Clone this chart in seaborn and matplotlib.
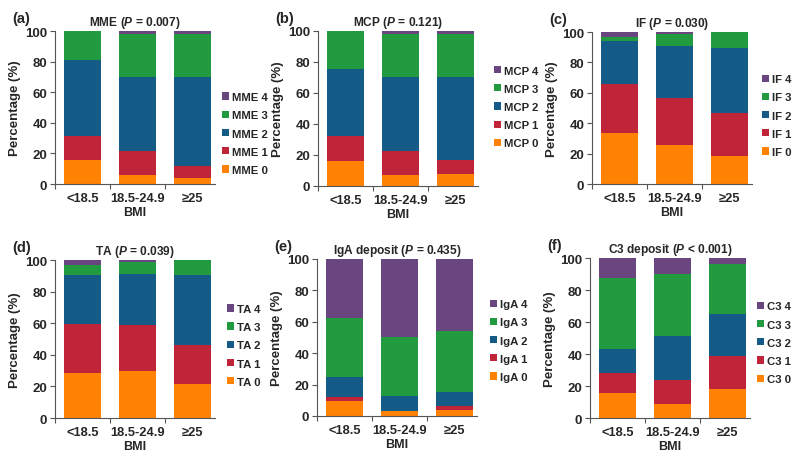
import pandas as pd
import matplotlib.pyplot as plt
import seaborn as sns

# BMI groups
bmi_groups = ['<18.5', '18.5-24.9', '≥25']
grades = ['0', '1', '2', '3', '4']

# percentage of each grade (0..4) per BMI group
mme = [[15.5, 15.7, 50.0, 18.8, 0.0],
       [6.1, 15.3, 48.3, 28.6, 1.7],
       [3.7, 7.9, 58.5, 28.2, 1.7]]
mcp = [[16.0, 16.0, 43.5, 24.5, 0.0],
       [6.8, 16.0, 47.8, 27.6, 1.8],
       [7.8, 9.0, 53.6, 27.8, 1.8]]
if_ = [[33.8, 31.7, 28.3, 3.1, 3.1],
       [25.9, 30.4, 34.2, 8.0, 1.5],
       [18.5, 28.5, 42.5, 10.5, 0.0]]
ta = [[28.4, 30.8, 31.3, 6.3, 3.2],
      [30.0, 28.8, 32.4, 7.3, 1.5],
      [21.6, 24.6, 44.3, 9.5, 0.0]]
iga = [[9.4, 2.9, 12.8, 37.2, 37.7],
       [3.0, 0.4, 9.6, 37.6, 49.4],
       [4.0, 2.2, 9.3, 38.8, 45.7]]
c3 = [[15.6, 12.4, 15.4, 43.9, 12.7],
      [8.7, 15.2, 27.1, 39.0, 10.0],
      [18.3, 20.3, 26.5, 31.2, 3.7]]

panels = [
    ('(a)', 'MME', r'MME ($\it{P}$ = 0.007)', mme),
    ('(b)', 'MCP', r'MCP ($\it{P}$ = 0.121)', mcp),
    ('(c)', 'IF', r'IF ($\it{P}$ = 0.030)', if_),
    ('(d)', 'TA', r'TA ($\it{P}$ = 0.039)', ta),
    ('(e)', 'IgA', r'IgA deposit ($\it{P}$ = 0.435)', iga),
    ('(f)', 'C3', r'C3 deposit ($\it{P}$ < 0.001)', c3),
]

colors = ['#FF8205', '#BF2438', '#145C87', '#229A3F', '#6A4680']

sns.set_style('ticks')
plt.rcParams['font.family'] = ['Liberation Sans', 'DejaVu Sans']
plt.rcParams['font.weight'] = 'bold'
plt.rcParams['mathtext.fontset'] = 'custom'
plt.rcParams['mathtext.it'] = 'Liberation Sans:bold:italic'
plt.rcParams['mathtext.rm'] = 'Liberation Sans:bold'

W, H = 795, 464
fig = plt.figure(figsize=(W / 100, H / 100), dpi=100)

# axes boxes in pixels: left, top, bottom ; legend left edge in pixels ; legend y
boxes = [(55, 32, 185, 222, 0.33), (318, 32, 187, 494, 0.51), (592, 33, 185, 762, 0.45),
         (55, 261, 419, 227, 0.46), (317, 260, 417, 490, 0.48), (590, 259, 419, 757, 0.47)]
width = 160

for (tag, short, title, vals), (lx, top, bot, legx, legy) in zip(panels, boxes):
    ax = fig.add_axes([lx / W, 1 - bot / H, width / W, (bot - top) / H])
    rows = []
    for g, row in zip(bmi_groups, vals):
        cum = 0
        for k, v in zip(grades, row):
            cum += v
            rows.append({'BMI': g, 'grade': k, 'cum': cum})
    df = pd.DataFrame(rows)
    # draw cumulative totals from the top grade down
    for k in reversed(range(5)):
        sub = df[df['grade'] == grades[k]]
        sns.barplot(data=sub, x='BMI', y='cum', color=colors[k], width=0.67,
                    order=bmi_groups, ax=ax, label=f'{short} {grades[k]}',
                    saturation=1, edgecolor='none', linewidth=0)
    ax.set_ylim(0, 100)
    ax.set_yticks(range(0, 101, 20))
    ax.set_xlim(-0.5, 2.4)
    ax.set_xticks([-0.5, 0.5, 1.5], minor=True)
    ax.tick_params(axis='x', which='major', length=0, pad=6, labelsize=9.3)
    ax.tick_params(axis='x', which='minor', length=3.5, color='#555555', width=0.8)
    ax.tick_params(axis='y', length=3.5, color='#555555', width=0.8, labelsize=9.5, pad=2)
    for lab in ax.get_xticklabels() + ax.get_yticklabels():
        lab.set_fontweight('bold')
    for s in ['left', 'bottom']:
        ax.spines[s].set_color('#555555')
        ax.spines[s].set_linewidth(0.8)
    sns.despine(ax=ax)
    ax.set_xlabel('BMI', fontsize=9, fontweight='bold', labelpad=1)
    ax.set_ylabel('Percentage (%)', fontsize=9.5, fontweight='bold', labelpad=3)
    ax.set_title(title, fontsize=8.6, fontweight='bold', pad=4)
    ax.text(-43 / width, 1 + 9 / (bot - top), tag, transform=ax.transAxes,
            fontsize=10.5, fontweight='bold', va='baseline', ha='left')
    h, l = ax.get_legend_handles_labels()
    ax.legend(h, l, loc='center left', bbox_to_anchor=((legx - lx) / width, legy),
              frameon=False, borderaxespad=0, borderpad=0,
              prop={'weight': 'bold', 'size': 8.2}, handlelength=0.6,
              handleheight=0.6, handletextpad=0.3, labelspacing=0.72)

fig.savefig('out.png', dpi=100)
